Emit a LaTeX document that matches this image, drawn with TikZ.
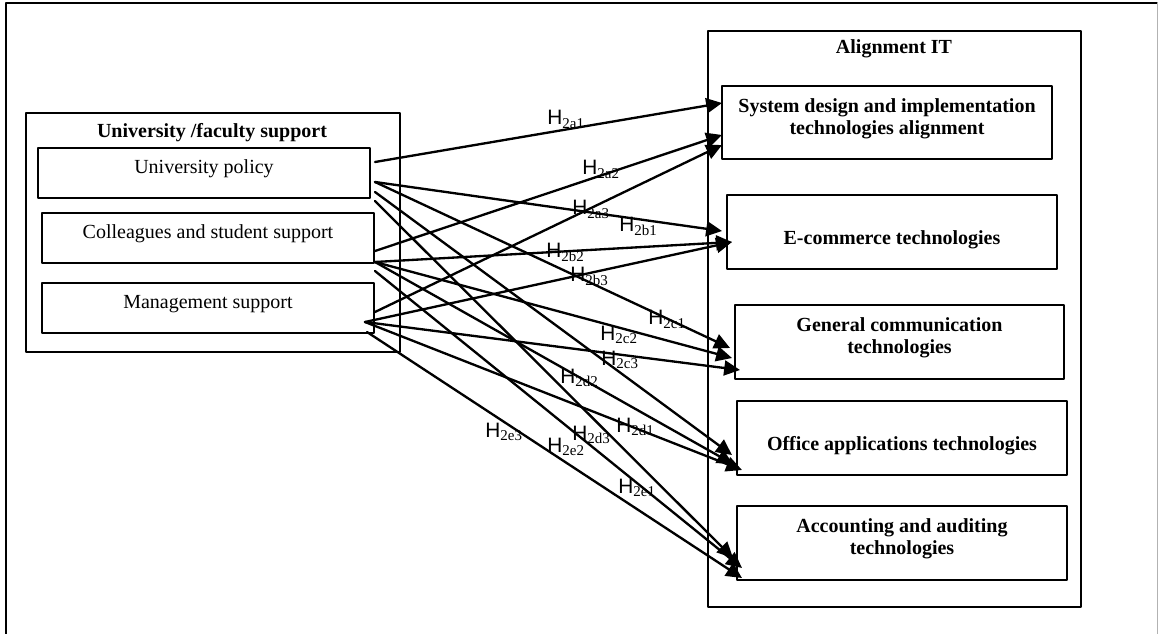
\documentclass[tikz,border=0pt]{standalone}
\usepackage{fontspec}
\setmainfont{Liberation Serif}
\newfontfamily\hfont{Liberation Sans}
\usepackage{tikz}
\usetikzlibrary{calc}
\usetikzlibrary{arrows.meta}
\newcommand{\hyp}[1]{{\hfont\fontsize{12.5}{14}\selectfont H}\raisebox{-0.4ex}{\fontsize{9}{10}\selectfont #1}}
\tikzstyle{every node}=[font=\fontsize{12}{14}\selectfont]
\tikzstyle{group}=[draw,line width=1.2pt,anchor=north west,inner sep=0pt]
\tikzstyle{factor}=[draw,line width=1.2pt,anchor=north west,minimum width=199.2pt,minimum height=30pt,inner ysep=4pt,text height=11.6pt,text depth=10.4pt]
\tikzstyle{target}=[draw,line width=1.2pt,anchor=north west,minimum width=198pt,minimum height=44.4pt,align=center,font=\fontsize{12}{13.2}\selectfont\bfseries]
\tikzstyle{oneline}=[text height=17.8pt,text depth=2.6pt]
\tikzstyle{twoline}=[text depth=7.4pt]
\tikzstyle{hlab}=[anchor=base west,inner sep=0pt]

\begin{document}
\begin{tikzpicture}[line cap=round,line join=round,>={Triangle[length=9.5pt,width=9pt]},x=0.6pt,y=-0.6pt]
            \useasboundingbox (0,0) rectangle (1158,634);
            % page frame
            \draw [line width=1pt] (6,634) -- (6,3) -- (1157,3);
            \draw [line width=0.6pt,color=gray!60] (1157,3) -- (1157,634);
            % left group
            \node [group,minimum width=224.4pt,minimum height=143.4pt] (uni) at (25,112) {};
            \node [font=\fontsize{12}{14}\selectfont\bfseries] (unit) at (212,133) {University /faculty support};
            \node [factor] (up) at (37,147) {University policy};
            \node [factor] (cs) at (41,212) {Colleagues and student support};
            \node [factor] (ms) at (41,282) {Management support};
            % right group
            \node [group,minimum width=223.8pt,minimum height=345.6pt] (align) at (707,30) {};
            \node [font=\fontsize{12}{14}\selectfont\bfseries] (alignt) at (894,49) {Alignment IT};
            \node [target,twoline,minimum height=43.8pt] (sysd) at (721,85) {System design and implementation\\technologies alignment};
            \node [target,oneline] (ecom) at (726,194) {E-commerce technologies};
            \node [target,twoline,minimum width=197.4pt] (gcom) at (734,304) {General communication\\technologies};
            \node [target,oneline] (offa) at (736,400) {Office applications technologies};
            \node [target,twoline] (acct) at (736,505) {Accounting and auditing\\technologies};
            % hypotheses
            \draw [->,line width=1.4pt] ($(up.north east)+(4,15)$) -- ($(sysd.north west)+(1,18)$);
            \draw [->,line width=1.4pt] ($(cs.north east)+(0,39)$) -- ($(sysd.north west)+(1,50)$);
            \draw [->,line width=1.4pt] ($(ms.north east)+(0,30)$) -- ($(sysd.north west)+(1,60)$);
            \draw [->,line width=1.4pt] ($(up.north east)+(4,35)$) -- ($(ecom.north west)+(-4,37)$);
            \draw [->,line width=1.4pt] ($(cs.north east)+(0,50)$) -- ($(ecom.north west)+(6,48)$);
            \draw [->,line width=1.4pt] ($(ms.north east)+(-10,40)$) -- ($(ecom.north west)+(6,48)$);
            \draw [->,line width=1.4pt] ($(up.north east)+(4,35)$) -- ($(gcom.north west)+(-4,44)$);
            \draw [->,line width=1.4pt] ($(cs.north east)+(0,50)$) -- ($(gcom.north west)+(-2,54)$);
            \draw [->,line width=1.4pt] ($(ms.north east)+(-10,40)$) -- ($(gcom.north west)+(6,66)$);
            \draw [->,line width=1.4pt] ($(up.north east)+(4,45)$) -- ($(offa.north west)+(-4,55)$);
            \draw [->,line width=1.4pt] ($(cs.north east)+(0,50)$) -- ($(offa.north west)+(-3,64)$);
            \draw [->,line width=1.4pt] ($(ms.north east)+(-10,40)$) -- ($(offa.north west)+(6,70)$);
            \draw [->,line width=1.4pt] ($(up.north east)+(4,54)$) -- ($(acct.north west)+(-3,53)$);
            \draw [->,line width=1.4pt] ($(cs.north east)+(0,59)$) -- ($(acct.north west)+(6,63)$);
            \draw [->,line width=1.4pt] ($(ms.north east)+(-8,50)$) -- ($(acct.north west)+(6,73)$);
            % labels
            \node [hlab] (h2a1) at (547,125) {\hyp{2a1}};
            \node [hlab] (h2a2) at (582,175) {\hyp{2a2}};
            \node [hlab] (h2a3) at (572,215) {\hyp{2a3}};
            \node [hlab] (h2b1) at (619,232) {\hyp{2b1}};
            \node [hlab] (h2b2) at (546,258) {\hyp{2b2}};
            \node [hlab] (h2b3) at (570,282) {\hyp{2b3}};
            \node [hlab] (h2c1) at (648,325) {\hyp{2c1}};
            \node [hlab] (h2c2) at (600,340) {\hyp{2c2}};
            \node [hlab] (h2c3) at (601,365) {\hyp{2c3}};
            \node [hlab] (h2d1) at (616,432) {\hyp{2d1}};
            \node [hlab] (h2d2) at (560,383) {\hyp{2d2}};
            \node [hlab] (h2d3) at (572,440) {\hyp{2d3}};
            \node [hlab] (h2e1) at (618,493) {\hyp{2e1}};
            \node [hlab] (h2e2) at (547,452) {\hyp{2e2}};
            \node [hlab] (h2e3) at (485,437) {\hyp{2e3}};
            \end{tikzpicture}
\end{document}
